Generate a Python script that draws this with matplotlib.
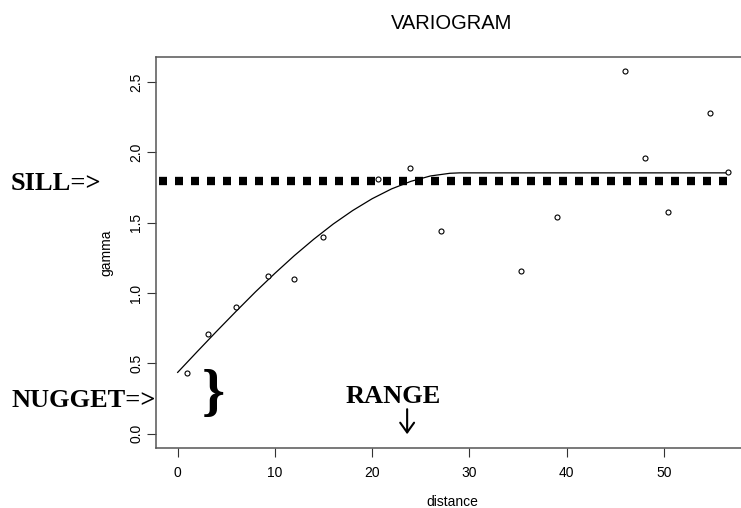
import matplotlib
matplotlib.use("Agg")
import matplotlib.pyplot as plt

plt.rcParams["font.family"] = ["Liberation Sans", "DejaVu Sans"]

dist = [0.95, 3.1, 6.0, 9.3, 12.0, 14.9, 20.6, 23.9, 27.1, 35.3, 39.0, 46.0, 48.1, 50.4, 54.7, 56.6]
gamma = [0.43, 0.71, 0.90, 1.12, 1.10, 1.40, 1.81, 1.89, 1.44, 1.16, 1.54, 2.58, 1.96, 1.58, 2.28, 1.86]

# fitted model curve, read at a few distances
model_d = [0, 2, 4, 6, 8, 10, 12, 14, 16, 18, 20, 22, 24, 26, 28, 29, 56.6]
model_g = [0.435, 0.582, 0.727, 0.869, 1.008, 1.140, 1.266, 1.383, 1.491, 1.587,
           1.671, 1.741, 1.795, 1.833, 1.852, 1.855, 1.855]

sill_level = 1.8
sill_span = [-1.92, 56.5]

x_ticks = [0, 10, 20, 30, 40, 50]
y_ticks = [0.0, 0.5, 1.0, 1.5, 2.0, 2.5]

W, H = 741, 508
fig = plt.figure(figsize=(W / 100, H / 100), dpi=100)
ax = fig.add_axes([155.7 / W, 1 - 448 / H, (749 - 155.7) / W, (448 - 56.5) / H])

ax.plot(model_d, model_g, color="black", lw=0.9)
ax.plot(dist, gamma, "o", ms=3.6, mfc="white", mec="black", mew=0.8)
ax.plot(sill_span, [sill_level, sill_level], color="black", lw=6.0,
        dashes=(0.96, 0.96), dash_capstyle="butt")

ax.set_xlim(-2.26, 58.76)
ax.set_ylim(-0.1032, 2.6832)
ax.set_xticks(x_ticks)
ax.set_xticklabels([str(t) for t in x_ticks])
ax.set_yticks(y_ticks)
ax.set_yticklabels([f"{t:.1f}" for t in y_ticks], rotation=90, va="center")

for s in ax.spines.values():
    s.set_color("#555555")
    s.set_linewidth(1.1)
ax.tick_params(axis="both", length=6.5, width=0.8, color="#333333", labelsize=10)
ax.tick_params(axis="x", pad=6.5)
ax.tick_params(axis="y", pad=2.5)

ax.set_xlabel("distance", fontsize=10)
ax.xaxis.set_label_coords(0.5, -0.12)
ax.set_ylabel("gamma", fontsize=10)
ax.yaxis.set_label_coords(-0.0715, 0.5)

fig.text(452 / W, 1 - 29.3 / H, "VARIOGRAM", ha="center", va="baseline", fontsize=14.5)

serif = dict(family="Liberation Serif", weight="bold")
fig.text(11 / W, 1 - 190 / H, "SILL=>", ha="left", va="baseline", fontsize=19, **serif)
fig.text(11 / W, 1 - 406.7 / H, "NUGGET=>", ha="left", va="baseline", fontsize=19, **serif)
ax.text(22.2, 0.22, "RANGE", ha="center", va="baseline", fontsize=19, **serif)
ax.text(3.63, 0.173, "}", ha="center", va="baseline", fontsize=42, **serif)
ax.annotate("", xy=(23.6, -0.005), xytext=(23.6, 0.173),
            arrowprops=dict(arrowstyle="->,head_length=0.35,head_width=0.25",
                            mutation_scale=20, lw=1.5, color="black",
                            shrinkA=0, shrinkB=0))

fig.savefig("out.png", dpi=100)
